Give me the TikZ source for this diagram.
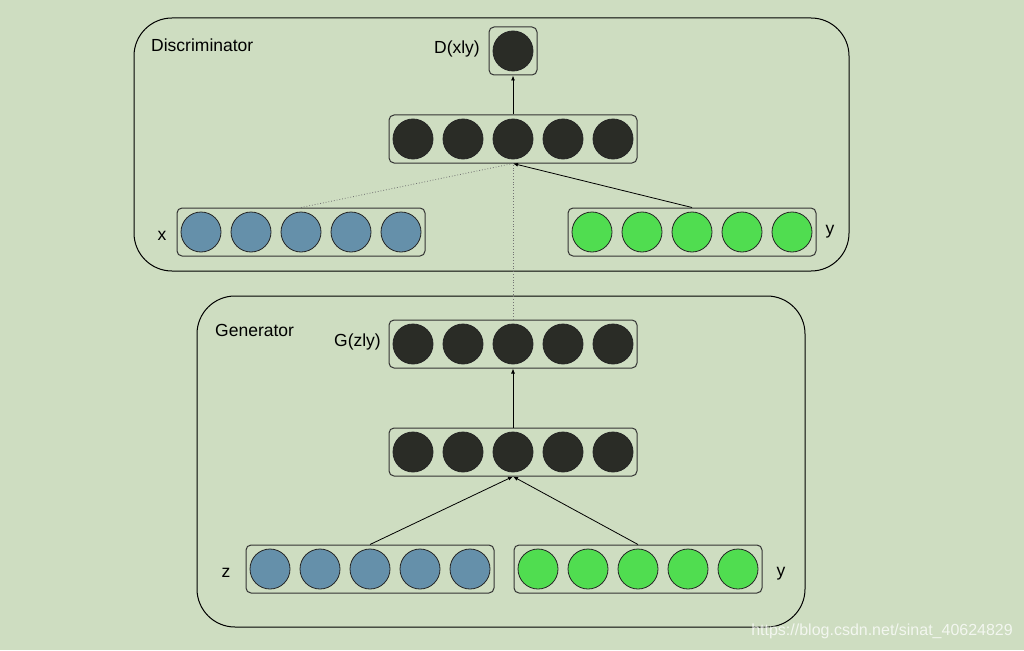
\documentclass[tikz,border=0pt]{standalone}
\usepackage{fontspec}
\setmainfont{Liberation Sans}
\usetikzlibrary{arrows.meta}

\definecolor{fond}{RGB}{206,221,193}
\definecolor{noir}{RGB}{42,44,38}
\definecolor{bleu}{RGB}{101,144,170}
\definecolor{vert}{RGB}{80,221,80}

\begin{document}
\begin{tikzpicture}[x=1pt,y=-1pt,
	neurone/.style={circle,draw=black!85,line width=0.8pt,minimum size=40pt,inner sep=0pt},
	couche/.style={draw=black!80,line width=1pt,rounded corners=5pt,minimum width=248pt,minimum height=48pt,inner sep=0pt},
	bloc/.style={draw=black,line width=1pt,rounded corners=38pt},
	etiquette/.style={inner sep=0pt,font=\fontsize{17.5}{20}\selectfont},
	fleche/.style={-{Latex[length=5pt,width=4pt]},line width=0.8pt},
	pointille/.style={dotted,draw=black!55,line width=0.8pt}]

\fill[fond] (0,0) rectangle (1024,650);

% les deux blocs
\draw[bloc] (134,18) rectangle (849,271);
\draw[bloc] (197,296) rectangle (805,627);
\node[etiquette,anchor=west] (titreD) at (151,45) {Discriminator};
\node[etiquette,anchor=west] (titreG) at (215,330) {Generator};

% couches du discriminateur
\node[couche,minimum width=48pt] (dsortie) at (513,51) {};
\node[neurone,fill=noir] (d1) at (513,51) {};
\node[couche] (dcache) at (513,139) {};
\node[couche] (xcouche) at (301,232) {};
\node[couche] (ycouche) at (692,232) {};

% couches du generateur
\node[couche] (gsortie) at (513,344) {};
\node[couche] (gcache) at (513,452) {};
\node[couche] (zcouche) at (370,569) {};
\node[couche] (yzcouche) at (638,569) {};

\foreach \i in {1,...,5} % cinq neurones par couche
{
	\node[neurone,fill=noir] (dc\i) at (363+50*\i,139) {};
	\node[neurone,fill=bleu] (x\i) at (151+50*\i,232) {};
	\node[neurone,fill=vert] (y\i) at (542+50*\i,232) {};
	\node[neurone,fill=noir] (gs\i) at (363+50*\i,344) {};
	\node[neurone,fill=noir] (gc\i) at (363+50*\i,452) {};
	\node[neurone,fill=bleu] (z\i) at (220+50*\i,569) {};
	\node[neurone,fill=vert] (yz\i) at (488+50*\i,569) {};
}

\node[etiquette,anchor=east] (labD) at (480,49) {D(xly)};
\node[etiquette,anchor=east] (labG) at (381,342) {G(zly)};
\node[etiquette] (labx) at (162,236) {x};
\node[etiquette] (laby) at (830,232) {y};
\node[etiquette] (labz) at (226,573) {z};
\node[etiquette] (labyz) at (781,574) {y};

\draw[fleche] (dcache.north) -- (dsortie.south);
\draw[pointille] (x3 |- xcouche.north) -- (dcache.south);
\draw[pointille] (gsortie.north) -- (dcache.south);
\draw[fleche] (y3 |- ycouche.north) -- (dcache.south);

\draw[fleche] (gcache.north) -- (gsortie.south);
\draw[fleche] (z3 |- zcouche.north) -- (gcache.south);
\draw[fleche] (yz3 |- yzcouche.north) -- (gcache.south);

\node[font=\fontsize{16}{18}\selectfont,text=white,opacity=0.75,inner sep=0pt,anchor=east] (filigrane) at (1013,631) {https://blog.csdn.net/sinat\_40624829};

\end{tikzpicture}
\end{document}
